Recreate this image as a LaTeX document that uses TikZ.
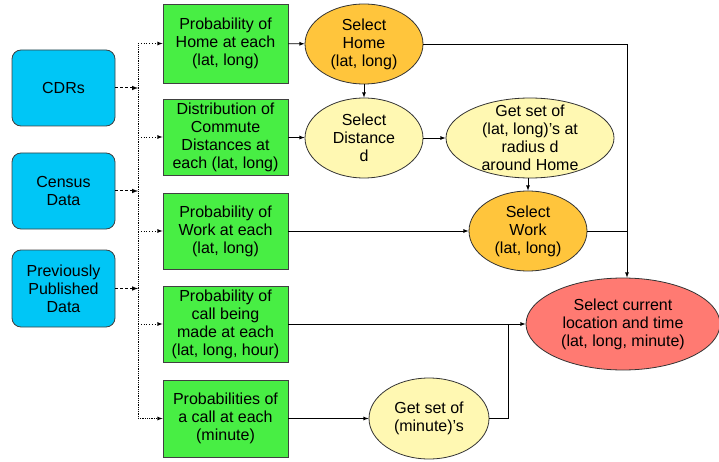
\documentclass[tikz,border=0pt]{standalone}
\usepackage{fontspec}
\setmainfont{Liberation Sans}
\usetikzlibrary{arrows,shapes.geometric}

\definecolor{srcblue}{HTML}{00C6F6}
\definecolor{modgreen}{HTML}{48EE44}
\definecolor{selorange}{HTML}{FFC53C}
\definecolor{getyellow}{HTML}{FFF8B2}
\definecolor{outred}{HTML}{FF7A72}

\tikzset{
  source/.style={draw=black!75, fill=srcblue, rounded corners=9pt, minimum width=103pt, minimum height=76pt, align=center, inner sep=0pt},
  model/.style={draw=black!75, fill=modgreen, minimum width=125pt, minimum height=76pt, align=center, inner sep=0pt},
  choose/.style={ellipse, draw=black!80, fill=selorange, minimum width=118pt, minimum height=80pt, align=center, inner sep=0pt},
  fetch/.style={ellipse, draw=black!80, fill=getyellow, minimum width=118pt, minimum height=80pt, align=center, inner sep=0pt},
}

\begin{document}
\begin{tikzpicture}[x=1pt, y=-1pt, font=\fontsize{16}{18}\selectfont, line width=0.8pt]
    \useasboundingbox (0,0) rectangle (719,462);

    % data sources
    \node[source] (cdr) at (63.5,88) {CDRs};
    \node[source] (census) at (63.5,191) {Census\\Data};
    \node[source, minimum height=77pt] (prev) at (63.5,288.5) {Previously\\Published\\Data};

    % models
    \node[model, minimum height=79pt] (phome) at (225.5,43.5) {Probability of\\Home at each\\(lat, long)};
    \node[model] (pdist) at (225.5,137) {Distribution of\\Commute\\Distances at\\each (lat, long)};
    \node[model] (pwork) at (225.5,231) {Probability of\\Work at each\\(lat, long)};
    \node[model] (pcall) at (225.5,324) {Probability of\\call being\\made at each\\(lat, long, hour)};
    \node[model, minimum height=77pt] (pmin) at (225.5,418.5) {Probabilities of\\a call at each\\(minute)};

    % selections
    \node[choose] (home) at (364,44) {Select\\Home\\(lat, long)};
    \node[fetch] (dist) at (364,138) {Select\\Distance\\d};
    \node[fetch, minimum width=168pt, inner ysep=-9pt] (ring) at (530,138) {Get set of\\(lat, long)'s at\\radius d\\around Home};
    \node[choose] (work) at (528,231) {Select\\Work\\(lat, long)};
    \node[fetch, minimum width=120pt, minimum height=81pt] (mins) at (429,418.5) {Get set of\\(minute)'s};
    \node[ellipse, draw=black!80, fill=outred, minimum width=194pt, minimum height=92pt, align=center, inner sep=0pt] (curr) at (623,324) {Select current\\location and time\\(lat, long, minute)};

    % bus
    \coordinate (bhome) at (138,43.5);
    \coordinate (bdist) at (138,137);
    \coordinate (bwork) at (138,231);
    \coordinate (bcall) at (138,324);
    \coordinate (bmin) at (138,418.5);
    \coordinate (icdr) at (138,88);
    \coordinate (icen) at (138,191);
    \coordinate (iprev) at (138,288.5);
    \coordinate (jhome) at (627,44);
    \coordinate (jmin) at (508,324);

    \draw[densely dotted] (bhome) -- (bmin);
    \draw (cdr) edge[densely dashed, -latex, line width=1pt] (icdr) (census) edge[densely dashed, -latex, line width=1pt] (icen) (prev) edge[densely dashed, -latex, line width=1pt] (iprev);
    \draw (bhome) edge[dotted, -latex] (phome) (bdist) edge[dotted, -latex] (pdist) (bwork) edge[dotted, -latex] (pwork);
    \draw (bcall) edge[dotted, -latex] (pcall) (bmin) edge[densely dotted, -latex] (pmin);

    \draw (phome) edge[-latex] (home) (pdist) edge[-latex] (dist) (pwork) edge[-latex] (work.west |- pwork);
    \draw (pcall) edge[-latex] (curr.west |- pcall) (pmin) edge[-latex] (mins);
    \draw (home) edge[-latex] (dist) (dist) edge[-latex] (ring) (ring.south -| work) edge[-latex] (work);

    \draw[-latex] (home) -- (jhome) -- (curr.north -| jhome);
    \draw (work.east |- pwork) -- (jhome |- pwork);
    \draw (mins) -| (jmin);

  \end{tikzpicture}
\end{document}
